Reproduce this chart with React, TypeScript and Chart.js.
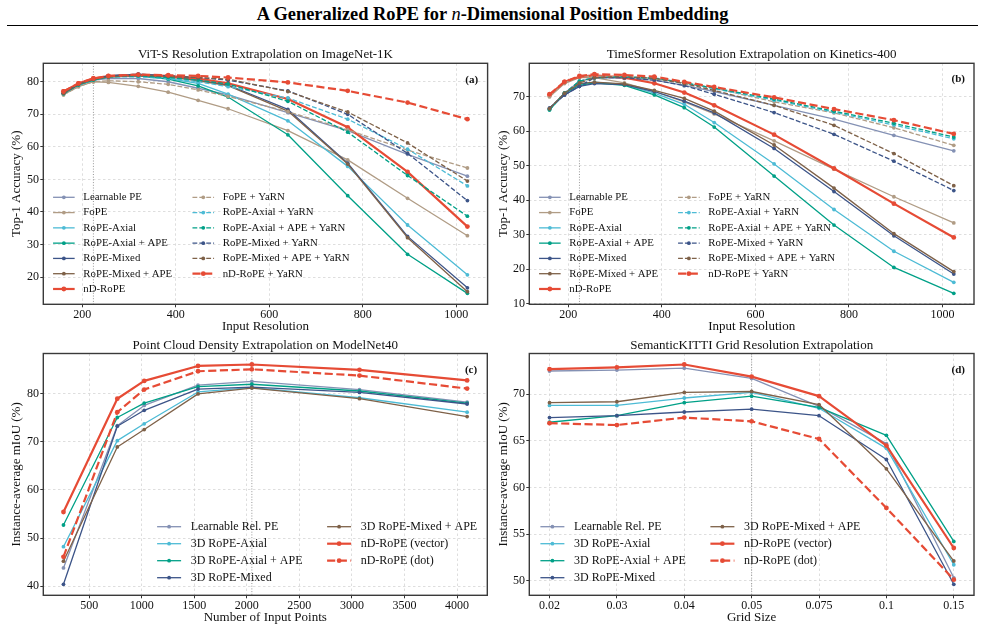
import { useEffect, useRef } from 'react';
import { Chart, registerables } from 'chart.js';

Chart.register(...registerables);

const SERIF = "'Liberation Serif', 'Times New Roman', Times, serif";

// Method colours
const C_LEARN = '#8491B4';
const C_FOPE = '#B09C85';
const C_AXIAL = '#4DBBD5';
const C_AXIAL_APE = '#00A087';
const C_MIXED = '#3C5488';
const C_MIXED_APE = '#7E6148';
const C_ND = '#E64B35';

// ---- (a) ViT-S on ImageNet-1K and (b) TimeSformer on Kinetics-400 ----
const resolutions = [160, 192, 224, 256, 320, 384, 448, 512, 640, 768, 896, 1024];
const resolutionTicks = [200, 400, 600, 800, 1000];
const trainResolution = 224;

const vitTicksY = [20, 30, 40, 50, 60, 70, 80];
const vitLearnable = [76.5, 79.0, 80.5, 81.0, 81.0, 80.0, 78.0, 76.0, 70.5, 65.0, 57.7, 51.0];
const vitFoPE = [76.0, 78.5, 80.0, 79.8, 78.6, 76.8, 74.3, 71.7, 65.0, 56.0, 44.2, 32.7];
const vitAxial = [76.5, 79.0, 80.5, 81.5, 81.8, 81.0, 79.5, 76.2, 68.0, 54.0, 36.0, 20.7];
const vitAxialApe = [76.3, 79.0, 80.5, 81.5, 81.8, 80.8, 78.7, 75.3, 63.7, 45.0, 27.0, 15.0];
const vitMixed = [76.5, 79.2, 80.8, 81.8, 82.3, 81.8, 80.5, 79.0, 71.5, 55.0, 32.5, 16.7];
const vitMixedApe = [76.5, 79.2, 80.7, 81.5, 82.0, 81.5, 80.3, 78.8, 71.0, 54.7, 32.1, 15.5];
const vitNd = [77.0, 79.5, 81.0, 81.7, 82.0, 81.8, 81.0, 79.5, 74.7, 66.0, 52.3, 35.5];
const vitFoPEYarn = [76.0, 78.5, 80.0, 80.3, 80.0, 79.2, 77.5, 75.5, 70.8, 65.2, 59.0, 53.5];
const vitAxialYarn = [76.5, 79.0, 80.5, 81.5, 81.5, 81.0, 80.0, 78.5, 75.0, 68.5, 59.3, 48.0];
const vitAxialApeYarn = [76.3, 79.0, 80.5, 81.5, 81.8, 81.3, 80.5, 79.3, 74.0, 64.5, 51.2, 38.7];
const vitMixedYarn = [76.5, 79.2, 80.8, 81.8, 82.3, 81.8, 81.3, 80.5, 77.2, 70.0, 58.0, 43.5];
const vitMixedApeYarn = [76.5, 79.2, 80.7, 81.5, 82.0, 81.7, 81.3, 80.8, 77.0, 70.7, 61.2, 49.5];
const vitNdYarn = [77.0, 79.5, 81.0, 81.8, 82.2, 82.0, 81.8, 81.3, 79.8, 77.2, 73.6, 68.5];

const tsTicksY = [10, 20, 30, 40, 50, 60, 70];
const tsLearnable = [66.5, 71.0, 74.5, 75.5, 75.3, 74.8, 73.3, 71.5, 67.5, 63.5, 58.8, 54.3];
const tsFoPE = [70.0, 73.8, 75.5, 75.5, 74.0, 71.5, 68.5, 65.0, 57.2, 49.0, 41.0, 33.4];
const tsAxial = [66.3, 70.8, 73.5, 74.2, 73.5, 71.0, 67.8, 62.5, 50.5, 37.3, 25.2, 16.2];
const tsAxialApe = [66.2, 71.0, 73.3, 74.0, 73.3, 70.5, 66.8, 61.2, 47.0, 32.8, 20.5, 13.0];
const tsMixed = [66.7, 70.5, 73.0, 73.8, 73.5, 71.5, 68.7, 65.3, 55.0, 42.5, 29.7, 18.6];
const tsMixedApe = [66.5, 71.0, 73.8, 74.2, 73.7, 71.8, 69.5, 65.8, 56.0, 43.5, 30.3, 19.3];
const tsNd = [70.5, 74.3, 75.8, 76.2, 75.5, 73.9, 71.2, 67.5, 59.0, 49.2, 39.0, 29.2];
const tsFoPEYarn = [70.0, 74.0, 75.8, 76.0, 75.8, 75.3, 74.0, 72.5, 68.5, 65.3, 61.0, 55.9];
const tsAxialYarn = [66.3, 71.0, 74.5, 75.5, 75.7, 75.5, 74.0, 72.3, 69.0, 65.5, 61.8, 57.8];
const tsAxialApeYarn = [66.2, 71.0, 74.5, 75.5, 75.7, 75.3, 74.0, 72.5, 69.3, 65.8, 62.3, 58.3];
const tsMixedYarn = [66.7, 70.5, 73.0, 75.5, 75.5, 74.8, 73.2, 70.7, 65.4, 59.1, 51.3, 42.8];
const tsMixedApeYarn = [66.5, 71.0, 74.0, 75.5, 75.8, 75.3, 73.8, 71.8, 67.5, 61.7, 53.5, 44.2];
const tsNdYarn = [70.7, 74.3, 76.0, 76.5, 76.3, 75.8, 74.3, 72.8, 69.8, 66.4, 63.2, 59.2];

// ---- (c) Point cloud density on ModelNet40 ----
const pointCounts = [256, 768, 1024, 1536, 2048, 3072, 4096];
const pointTicks = [500, 1000, 1500, 2000, 2500, 3000, 3500, 4000];
const trainPoints = 2048;
const pcTicksY = [40, 50, 60, 70, 80];
const pcLearnable = [43.8, 73.3, 77.5, 81.7, 82.5, 80.8, 78.2];
const pcAxial = [48.2, 70.2, 73.7, 80.3, 81.2, 79.1, 76.1];
const pcAxialApe = [52.7, 75.0, 78.0, 81.4, 81.9, 80.5, 78.0];
const pcMixed = [40.4, 73.2, 76.5, 80.9, 81.3, 80.2, 77.8];
const pcMixedApe = [45.2, 68.9, 72.5, 79.9, 81.1, 78.9, 75.2];
const pcNdVector = [55.4, 78.9, 82.6, 85.7, 86.0, 84.9, 82.7];
const pcNdDot = [46.1, 76.1, 80.8, 84.6, 85.0, 83.7, 81.0];

// ---- (d) SemanticKITTI grid resolution ----
const gridSizes = ['0.02', '0.03', '0.04', '0.05', '0.075', '0.1', '0.15'];
const trainGridIndex = 3;
const kittiTicksY = [50, 55, 60, 65, 70];
const kittiLearnable = [72.5, 72.6, 72.8, 71.7, 68.7, 64.7, 50.3];
const kittiAxial = [68.8, 68.8, 69.6, 70.2, 68.5, 64.2, 51.7];
const kittiAxialApe = [67.0, 67.7, 69.1, 69.8, 68.6, 65.6, 54.2];
const kittiMixed = [67.5, 67.7, 68.1, 68.4, 67.7, 63.0, 49.6];
const kittiMixedApe = [69.1, 69.2, 70.2, 70.3, 68.9, 62.0, 52.1];
const kittiNdVector = [72.7, 72.9, 73.2, 71.9, 69.8, 64.5, 53.5];
const kittiNdDot = [66.9, 66.7, 67.5, 67.1, 65.2, 57.8, 50.1];

type Series = { label: string; values: number[]; color: string; dashed?: boolean; bold?: boolean };

type PanelCfg = {
  box: [number, number, number, number];
  plot: [number, number, number, number];
  titleY: number;
  xLabelY: number;
  yLabelX: number;
  title: string;
  xLabel: string;
  yLabel: string;
  tag: string;
  tagPos: [number, number];
  xs: number[];
  xTicks: number[];
  xTickText?: string[];
  refX: number;
  yTicks: number[];
  series: Series[];
  legend: { cols: { x: number; n: number }[]; y0: number; step: number; size: number };
};

const imageSeries = (v: number[][]): Series[] => [
  { label: 'Learnable PE', values: v[0], color: C_LEARN },
  { label: 'FoPE', values: v[1], color: C_FOPE },
  { label: 'RoPE-Axial', values: v[2], color: C_AXIAL },
  { label: 'RoPE-Axial + APE', values: v[3], color: C_AXIAL_APE },
  { label: 'RoPE-Mixed', values: v[4], color: C_MIXED },
  { label: 'RoPE-Mixed + APE', values: v[5], color: C_MIXED_APE },
  { label: 'nD-RoPE', values: v[6], color: C_ND, bold: true },
  { label: 'FoPE + YaRN', values: v[7], color: C_FOPE, dashed: true },
  { label: 'RoPE-Axial + YaRN', values: v[8], color: C_AXIAL, dashed: true },
  { label: 'RoPE-Axial + APE + YaRN', values: v[9], color: C_AXIAL_APE, dashed: true },
  { label: 'RoPE-Mixed + YaRN', values: v[10], color: C_MIXED, dashed: true },
  { label: 'RoPE-Mixed + APE + YaRN', values: v[11], color: C_MIXED_APE, dashed: true },
  { label: 'nD-RoPE + YaRN', values: v[12], color: C_ND, dashed: true, bold: true },
];

const sceneSeries = (v: number[][]): Series[] => [
  { label: 'Learnable Rel. PE', values: v[0], color: C_LEARN },
  { label: '3D RoPE-Axial', values: v[1], color: C_AXIAL },
  { label: '3D RoPE-Axial + APE', values: v[2], color: C_AXIAL_APE },
  { label: '3D RoPE-Mixed', values: v[3], color: C_MIXED },
  { label: '3D RoPE-Mixed + APE', values: v[4], color: C_MIXED_APE },
  { label: 'nD-RoPE (vector)', values: v[5], color: C_ND, bold: true },
  { label: 'nD-RoPE (dot)', values: v[6], color: C_ND, dashed: true, bold: true },
];

const panelA: PanelCfg = {
  box: [0, 36, 490, 298],
  plot: [43.3, 63.3, 488.3, 304.3],
  titleY: 54.5, xLabelY: 327, yLabelX: 17,
  title: 'ViT-S Resolution Extrapolation on ImageNet-1K',
  xLabel: 'Input Resolution', yLabel: 'Top-1 Accuracy (%)',
  tag: '(a)', tagPos: [471.7, 80],
  xs: resolutions, xTicks: resolutionTicks, refX: trainResolution, yTicks: vitTicksY,
  series: imageSeries([vitLearnable, vitFoPE, vitAxial, vitAxialApe, vitMixed, vitMixedApe, vitNd,
    vitFoPEYarn, vitAxialYarn, vitAxialApeYarn, vitMixedYarn, vitMixedApeYarn, vitNdYarn]),
  legend: { cols: [{ x: 83.3, n: 7 }, { x: 222.7, n: 6 }], y0: 197.3, step: 15.28, size: 10.8 },
};

const panelB: PanelCfg = {
  box: [490, 36, 495, 298],
  plot: [529.3, 63.3, 974, 304.3],
  titleY: 54.5, xLabelY: 327, yLabelX: 503.3,
  title: 'TimeSformer Resolution Extrapolation on Kinetics-400',
  xLabel: 'Input Resolution', yLabel: 'Top-1 Accuracy (%)',
  tag: '(b)', tagPos: [958.3, 79.5],
  xs: resolutions, xTicks: resolutionTicks, refX: trainResolution, yTicks: tsTicksY,
  series: imageSeries([tsLearnable, tsFoPE, tsAxial, tsAxialApe, tsMixed, tsMixedApe, tsNd,
    tsFoPEYarn, tsAxialYarn, tsAxialApeYarn, tsMixedYarn, tsMixedApeYarn, tsNdYarn]),
  legend: { cols: [{ x: 569.3, n: 7 }, { x: 708.3, n: 6 }], y0: 197.3, step: 15.28, size: 10.8 },
};

const panelC: PanelCfg = {
  box: [0, 334, 490, 298],
  plot: [43.3, 353.3, 487.3, 595.3],
  titleY: 345.7, xLabelY: 618, yLabelX: 16.7,
  title: 'Point Cloud Density Extrapolation on ModelNet40',
  xLabel: 'Number of Input Points', yLabel: 'Instance-average mIoU (%)',
  tag: '(c)', tagPos: [471, 370.3],
  xs: pointCounts, xTicks: pointTicks, refX: trainPoints, yTicks: pcTicksY,
  series: sceneSeries([pcLearnable, pcAxial, pcAxialApe, pcMixed, pcMixedApe, pcNdVector, pcNdDot]),
  legend: { cols: [{ x: 190.7, n: 4 }, { x: 360.7, n: 3 }], y0: 526.7, step: 17, size: 12 },
};

const panelD: PanelCfg = {
  box: [490, 334, 495, 298],
  plot: [529.3, 353.3, 974, 595.3],
  titleY: 345.7, xLabelY: 618, yLabelX: 503.3,
  title: 'SemanticKITTI Grid Resolution Extrapolation',
  xLabel: 'Grid Size', yLabel: 'Instance-average mIoU (%)',
  tag: '(d)', tagPos: [958.3, 370.3],
  xs: gridSizes.map((_, i) => i), xTicks: gridSizes.map((_, i) => i), xTickText: gridSizes,
  refX: trainGridIndex, yTicks: kittiTicksY,
  series: sceneSeries([kittiLearnable, kittiAxial, kittiAxialApe, kittiMixed, kittiMixedApe, kittiNdVector, kittiNdDot]),
  legend: { cols: [{ x: 574, n: 4 }, { x: 744, n: 3 }], y0: 526.7, step: 17, size: 12 },
};

// Data limits with a 5% margin on each side
const paddedRange = (vals: number[]): [number, number] => {
  const lo = Math.min(...vals);
  const hi = Math.max(...vals);
  const m = (hi - lo) * 0.05;
  return [lo - m, hi + m];
};

const lineWidthOf = (s: Series) => (s.bold ? 2.2 : 1.3);
const dashOf = (s: Series) => {
  const lw = lineWidthOf(s);
  return s.dashed ? [lw * 3.7, lw * 1.6] : [];
};

function buildChart(canvas: HTMLCanvasElement, cfg: PanelCfg) {
  const [cx, cy, cw, ch] = cfg.box;
  const [pl, pt, pr, pb] = cfg.plot;
  const areaLeft = pl - cx;
  const areaTop = pt - cy;
  const areaRight = pr - cx;
  const areaBottom = pb - cy;
  const labelSize = 13;
  const lh = labelSize * 1.2;
  const titlePadTop = cfg.titleY - cy - lh / 2;
  const titlePadBottom = Math.max(0, areaTop - titlePadTop - lh);
  const xScaleH = ch - areaBottom;
  const xTitlePadBottom = ch - (cfg.xLabelY - cy) - lh / 2;
  const yTitlePadTop = cfg.yLabelX - cx - lh / 2;
  const [yMin, yMax] = paddedRange(cfg.series.flatMap((s) => s.values));
  const [xMin, xMax] = paddedRange(cfg.xs);
  const n = cfg.series.length;

  const decorations = {
    id: 'decorations',
    beforeDatasetsDraw(chart: any) {
      const { ctx, chartArea: a } = chart;
      const px = chart.scales.x.getPixelForValue(cfg.refX);
      ctx.save();
      ctx.strokeStyle = '#8c8c8c';
      ctx.lineWidth = 0.9;
      ctx.setLineDash([1, 1.7]);
      ctx.beginPath();
      ctx.moveTo(px, a.top);
      ctx.lineTo(px, a.bottom);
      ctx.stroke();
      ctx.restore();
    },
    afterDatasetsDraw(chart: any) {
      const { ctx, chartArea: a } = chart;
      ctx.save();
      // axes frame
      ctx.strokeStyle = '#3a3a3a';
      ctx.lineWidth = 1.4;
      ctx.setLineDash([]);
      ctx.strokeRect(a.left, a.top, a.right - a.left, a.bottom - a.top);

      // legend
      const { cols, y0, step, size } = cfg.legend;
      ctx.font = `${size}px ${SERIF}`;
      ctx.textBaseline = 'middle';
      ctx.textAlign = 'left';
      let idx = 0;
      cols.forEach((col) => {
        for (let r = 0; r < col.n; r++, idx++) {
          const s = cfg.series[idx];
          const y = y0 + r * step - cy;
          const tx = col.x - cx;
          const x2 = tx - 0.8 * size;
          const x1 = x2 - 2 * size;
          ctx.strokeStyle = s.color;
          ctx.fillStyle = s.color;
          ctx.lineWidth = lineWidthOf(s);
          ctx.setLineDash(dashOf(s));
          ctx.beginPath();
          ctx.moveTo(x1, y);
          ctx.lineTo(x2, y);
          ctx.stroke();
          ctx.setLineDash([]);
          ctx.beginPath();
          ctx.arc((x1 + x2) / 2, y, s.bold ? 2.4 : 1.9, 0, Math.PI * 2);
          ctx.fill();
          ctx.fillStyle = '#111';
          ctx.fillText(s.label, tx, y);
        }
      });

      // panel tag
      ctx.font = `bold 11px ${SERIF}`;
      ctx.textAlign = 'center';
      ctx.fillStyle = '#111';
      ctx.fillText(cfg.tag, cfg.tagPos[0] - cx, cfg.tagPos[1] - cy);
      ctx.restore();
    },
  };

  return new Chart(canvas, {
    type: 'line',
    data: {
      datasets: cfg.series.map((s, i) => ({
        label: s.label,
        data: s.values.map((v, j) => ({ x: cfg.xs[j], y: v })),
        borderColor: s.color,
        backgroundColor: s.color,
        borderWidth: lineWidthOf(s),
        borderDash: dashOf(s),
        borderJoinStyle: 'round',
        pointRadius: s.bold ? 2.4 : 1.9,
        pointBorderWidth: 0,
        pointBackgroundColor: s.color,
        pointHoverRadius: 0,
        tension: 0,
        fill: false,
        order: n - i,
      })) as any,
    },
    options: {
      responsive: false,
      animation: false,
      events: [],
      layout: { padding: { left: 0, top: 0, bottom: 0, right: cw - areaRight } },
      plugins: {
        legend: { display: false },
        tooltip: { enabled: false },
        title: {
          display: true,
          text: cfg.title,
          fullSize: false,
          color: '#111',
          font: { family: SERIF, size: labelSize, weight: 'normal' },
          padding: { top: titlePadTop, bottom: titlePadBottom },
        },
      },
      scales: {
        x: {
          type: 'linear',
          min: xMin,
          max: xMax,
          afterBuildTicks: (s: any) => {
            s.ticks = cfg.xTicks.map((v) => ({ value: v }));
          },
          afterFit: (s: any) => {
            s.height = xScaleH;
          },
          ticks: {
            autoSkip: false,
            maxRotation: 0,
            padding: 0,
            color: '#111',
            font: { family: SERIF, size: 12 },
            callback: (v: any) => (cfg.xTickText ? cfg.xTickText[Number(v)] : String(v)),
          },
          grid: {
            color: '#d6d6d6',
            lineWidth: 0.8,
            drawTicks: true,
            tickLength: 3,
            tickColor: '#333',
            tickWidth: 1,
            tickBorderDash: [],
          },
          border: { display: false, dash: [2.5, 2.5] },
          title: {
            display: true,
            text: cfg.xLabel,
            color: '#111',
            font: { family: SERIF, size: labelSize },
            padding: { top: 0, bottom: xTitlePadBottom },
          },
        },
        y: {
          type: 'linear',
          min: yMin,
          max: yMax,
          afterBuildTicks: (s: any) => {
            s.ticks = cfg.yTicks.map((v) => ({ value: v }));
          },
          afterFit: (s: any) => {
            s.width = areaLeft;
          },
          ticks: {
            padding: 1.3,
            color: '#111',
            font: { family: SERIF, size: 12 },
            callback: (v: any) => String(v),
          },
          grid: {
            color: '#d6d6d6',
            lineWidth: 0.8,
            drawTicks: true,
            tickLength: 3,
            tickColor: '#333',
            tickWidth: 1,
            tickBorderDash: [],
          },
          border: { display: false, dash: [2.5, 2.5] },
          title: {
            display: true,
            text: cfg.yLabel,
            color: '#111',
            font: { family: SERIF, size: labelSize },
            padding: { top: yTitlePadTop, bottom: 0 },
          },
        },
      },
    } as any,
    plugins: [decorations],
  });
}

function Panel({ cfg }: { cfg: PanelCfg }) {
  const ref = useRef<HTMLCanvasElement | null>(null);
  useEffect(() => {
    if (!ref.current) return;
    const chart = buildChart(ref.current, cfg);
    return () => chart.destroy();
  }, [cfg]);
  const [cx, cy, cw, ch] = cfg.box;
  return (
    <canvas
      ref={ref}
      width={cw}
      height={ch}
      style={{ position: 'absolute', left: cx, top: cy, width: cw, height: ch, display: 'block' }}
    />
  );
}

export default function App() {
  return (
    <div
      style={{
        position: 'fixed',
        left: 0,
        top: 0,
        width: 985,
        height: 632,
        background: '#fff',
        overflow: 'hidden',
      }}
    >
      <div
        style={{
          position: 'absolute',
          left: 0,
          top: 4,
          width: 985,
          lineHeight: '20px',
          textAlign: 'center',
          fontFamily: SERIF,
          fontWeight: 'bold',
          fontSize: 18.4,
          color: '#000',
          whiteSpace: 'nowrap',
        }}
      >
        A Generalized RoPE for <span style={{ fontStyle: 'italic', fontWeight: 'normal' }}>n</span>-Dimensional
        Position Embedding
      </div>
      <div style={{ position: 'absolute', left: 7, top: 24.6, width: 971, height: 1.7, background: '#000' }} />
      <Panel cfg={panelA} />
      <Panel cfg={panelB} />
      <Panel cfg={panelC} />
      <Panel cfg={panelD} />
    </div>
  );
}
